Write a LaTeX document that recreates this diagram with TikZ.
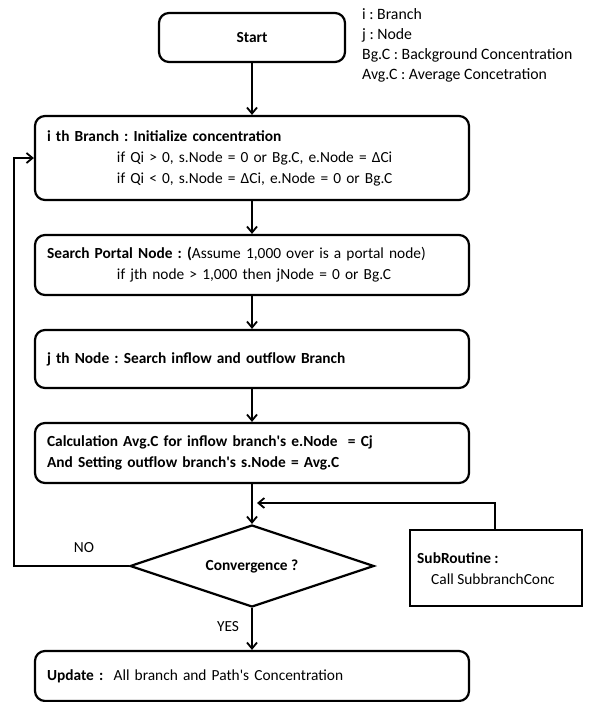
\documentclass[tikz,border=0pt]{standalone}
\usepackage{fontspec}
\setmainfont{Carlito}
\usetikzlibrary{arrows.meta,shapes.geometric}
\begin{document}
\frenchspacing
\begin{tikzpicture}[x=1pt,y=-1pt,
  font=\fontsize{15.4}{21}\selectfont,
  box/.style={draw,line width=2.2pt,rounded corners=10pt,minimum width=434pt,inner xsep=12pt,inner ysep=0pt,text width=410pt,align=left},
  flow/.style={draw,line width=1.8pt,-{Straight Barb[length=6pt,width=10pt,line width=1.8pt]}},
  lbl/.style={inner sep=0pt}]
\useasboundingbox (0,0) rectangle (589,702);
\node[draw,line width=2.2pt,rounded corners=10pt,minimum width=186pt,minimum height=49pt,font=\fontsize{15.4}{21}\selectfont\bfseries] (start) at (252,37.5) {Start};
\node[anchor=west,inner sep=0pt,align=left,font=\fontsize{15.8}{20}\selectfont] (legend) at (362,45) {i : Branch\\ j : Node\\ Bg.C : Background Concentration\\ Avg.C : Average Concetration};
\node[box,minimum height=84pt] (b1) at (252,158) {\textbf{i th Branch : Initialize concentration}\\
\hspace*{70pt}if Qi > 0, s.Node = 0 or Bg.C, e.Node = ΔCi\\
\hspace*{70pt}if Qi < 0, s.Node = ΔCi, e.Node = 0 or Bg.C};
\node[box,minimum height=60pt] (b2) at (252,265) {\textbf{Search Portal Node : (}Assume 1,000 over is a portal node)\\
\hspace*{70pt}if jth node > 1,000 then jNode = 0 or Bg.C};
\node[box,minimum height=58pt] (b3) at (252,359) {\textbf{j th Node : Search inflow and outflow Branch}};
\node[box,minimum height=60pt] (b4) at (252,453) {\textbf{Calculation Avg.C for inflow branch\textquotesingle s e.Node\ \ = Cj}\\
\textbf{And Setting outflow branch\textquotesingle s s.Node = Avg.C}};
\node[draw,line width=2.2pt,diamond,aspect=2.98,minimum width=244pt,minimum height=82pt,inner sep=0pt,font=\fontsize{15.4}{21}\selectfont\bfseries] (conv) at (252,566) {Convergence ?};
\node[draw,line width=2pt,minimum width=172pt,minimum height=76pt,anchor=north west,inner sep=0pt] (sub) at (409,529) {};
\node[anchor=west,lbl,font=\fontsize{15.4}{21}\selectfont\bfseries] (subt) at (417,558) {SubRoutine :};
\node[anchor=west,lbl] (subc) at (431,579) {Call SubbranchConc};
\node[box,minimum height=50pt] (b5) at (252,676) {\textbf{Update :}\ \ All branch and Path\textquotesingle s Concentration};
\coordinate (loopx) at (14,566);
\coordinate (subin) at (495,503);
\draw[flow] (start) -- (b1);
\draw[flow] (b1) -- (b2);
\draw[flow] (b2) -- (b3);
\draw[flow] (b3) -- (b4);
\draw[flow] (b4) -- (conv.north);
\draw[flow] (sub.north -| subin) -- (subin) -- (257,503);
\draw[flow] (conv.west) -- (loopx) |- (b1.west |- 0,158);
\draw[flow] (conv.south) -- (b5.north);
\node[lbl] (no) at (84,548) {NO};
\node[lbl] (yes) at (228,627) {YES};
\end{tikzpicture}
\end{document}
